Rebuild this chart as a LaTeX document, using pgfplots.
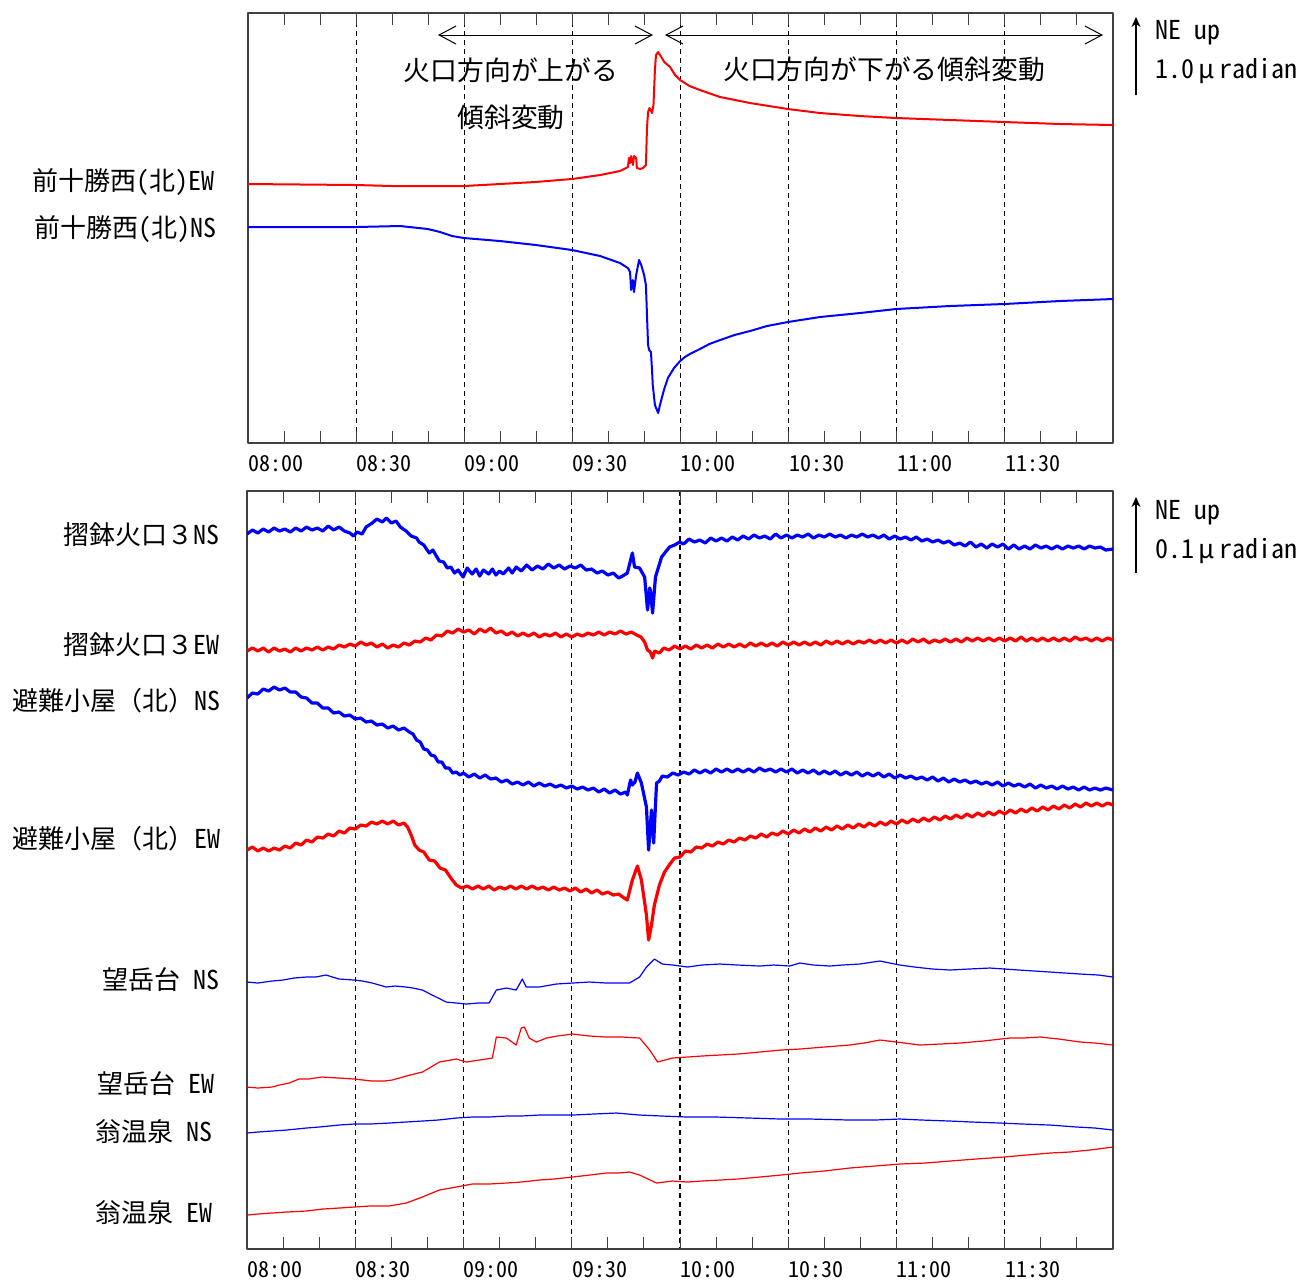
\documentclass[border=0pt]{standalone}
\usepackage{fontspec}
\setmainfont{Noto Sans CJK JP}[RawFeature=+hwid]
\newfontfamily\fw{Noto Sans CJK JP}
\usepackage{pgfplots}
\pgfplotsset{compat=1.18}
\usetikzlibrary{arrows.meta}
\definecolor{tred}{RGB}{255,0,0}
\definecolor{tblue}{RGB}{0,0,255}
\pgfplotsset{
 tiltaxis/.style={
  scale only axis, xmin=0, xmax=240, y dir=reverse,
  xtick={0,30,...,210},
  xticklabels={08:00,08:30,09:00,09:30,10:00,10:30,11:00,11:30},
  minor xtick={10,20,40,50,70,80,100,110,130,140,160,170,190,200,220,230},
  ytick=\empty,
  major tick length=6pt, minor tick length=6pt,
  every tick/.style={black!75, line width=0.5pt},
  axis line style={black!75, line width=0.6pt},
  xmajorgrids,
  major grid style={black, dash pattern=on 2.5pt off 2pt, line width=0.6pt},
  xticklabel style={anchor=north west, font=\fontsize{11}{13}\selectfont, inner sep=0pt, yshift=-6pt},
  line join=round,
 },
 thin trace/.style={line width=0.6pt},
 thick trace/.style={line width=1.6pt},
}
\begin{document}
\begin{tikzpicture}
\begin{scope}[x=0.5pt,y=-0.5pt]
\path[use as bounding box] (0,0) rectangle (1306,1282);
\end{scope}

% ---------------- top panel ----------------
\begin{axis}[tiltaxis, at={(124pt,-221.5pt)}, anchor=south west,
  width=432.5pt, height=215pt, ymin=13, ymax=443]
\addplot[tred, line width=1pt] coordinates {
(0,184) (30,185) (40,186) (50,186) (60,186) (69.9,184) (79.6,182) (89.9,179)
(97.7,175) (103.2,171) (104.9,168) (105.4,167) (105.7,158) (106.0,163) (106.3,156)
(106.8,165) (107.1,156) (107.7,158) (107.9,168) (108.8,169) (109.6,168) (110.4,165)
(110.7,128) (111.0,112) (111.4,108) (112.1,113) (112.5,105) (112.9,70) (113.2,55)
(113.8,52) (114.5,56) (115.5,62) (117.1,67) (118.5,75) (119.9,80) (122.5,86)
(125.4,90) (131,97) (139.3,103) (149.8,109) (158.7,113) (169.8,116) (179.8,118)
(194.8,120) (209.8,122) (225.3,124) (240,125)};
\addplot[tblue, line width=1pt] coordinates {
(0,227) (30,227) (42.2,226) (49.9,229) (53.3,232) (56.6,236) (59.9,238) (69.9,241)
(79.9,245) (89.9,250) (97.7,256) (103.2,263) (105.4,268) (106.0,272) (106.3,290)
(106.8,280) (107.1,292) (107.7,275) (108.5,260) (109.1,265) (109.9,275) (110.4,285)
(110.7,315) (111.0,345) (111.3,350) (111.8,352) (112.1,370) (112.3,385) (112.9,405)
(113.8,413) (114.3,405) (115.4,390) (116.5,378) (118.2,368) (119.9,361) (121.2,357)
(122.6,354) (125.4,349) (128,344) (131,340) (135,335) (139.3,331) (144,326)
(149.8,322) (158.7,317) (169.8,313) (179.8,309) (194.8,306) (209.8,304) (225.3,301) (240,299)};
\end{axis}

% ---------------- bottom panel ----------------
\begin{axis}[tiltaxis, at={(123.5pt,-624.5pt)}, anchor=south west,
  width=433pt, height=379pt, ymin=491, ymax=1249]
% 摺鉢火口3 NS
\addplot[tblue, thick trace] coordinates {
(0,534) (1.5,530) (3,533) (4.5,529) (6,532) (7.5,528) (9,531) (10.5,529) (12,532)
(13.5,528) (15,531) (16.5,527) (18,530) (19.5,528) (21,531) (22.5,526) (24,530)
(25.5,527) (27,531) (28.5,533) (29.5,536) (30.5,532) (31.9,534) (33,527) (34.7,523)
(36,519) (37.5,522) (38.6,518) (40,523) (41.3,521) (42.5,527) (44.1,531) (45.5,536)
(47,538) (47.7,542) (49,545) (50.5,553) (51.5,550) (53.3,561) (54.5,562) (55.5,568)
(56.5,567) (57.5,573) (58.5,570) (59.9,577) (61,568) (62.4,574) (63.5,569) (64.5,576)
(65.5,570) (67,574) (68,569) (69,575) (70,571) (71,574) (72.5,568) (73.5,573)
(74.6,567) (76,571) (77.5,565) (79,570) (80.5,566) (82,569) (83.5,564) (85,568)
(86.5,565) (88,569) (89.5,566) (91,568) (92.5,565) (94,570) (95.5,569) (97,573)
(98.5,571) (100,575) (101.5,573) (103,578) (104.1,576) (105.4,573) (106.8,553)
(107.4,567) (108.8,568) (110.2,577) (111.0,610) (111.6,588) (111.8,590) (112.4,613)
(113.2,577) (114.9,557) (116,552) (117.1,547) (118.5,545) (119.9,542) (121,544)
(122.5,539) (124,542) (125.5,540) (127,543) (128.5,538) (130,541) (131.5,538)
(133,541) (134.5,537) (136,540) (137.5,536) (139,539) (140.5,535) (142,538)
(143.5,536) (145,539) (146.5,534) (148,538) (149.5,535) (151,538) (152.5,535)
(154,537) (155.5,534) (157,538) (158.5,535) (160,537) (161.5,534) (163,537)
(164.5,535) (166,538) (167.5,535) (169,537) (170.5,534) (172,537) (173.5,535)
(175,538) (176.5,535) (178,539) (179.5,536) (181,539) (182.5,537) (184,540)
(185.5,537) (187,541) (188.5,539) (190,542) (191.5,540) (193,543) (194.5,541)
(196,545) (197.5,543) (199,546) (200.5,542) (202,547) (203.5,544) (205,548)
(206.5,544) (208,547) (209.5,544) (211,549) (212.5,545) (214,549) (215.5,546)
(217,549) (218.5,545) (220,548) (221.5,546) (223,549) (224.5,546) (226,549)
(227.5,546) (229,548) (230.5,546) (232,549) (233.5,546) (235,548) (236.5,547)
(238,550) (240,549)};
% 摺鉢火口3 EW
\addplot[tred, thick trace] coordinates {
(0,651) (1.5,648) (3,651) (4.5,648) (6,652) (7.5,648) (9,651) (10.5,649) (12,652)
(13.5,648) (15,651) (16.5,648) (18,650) (19.5,647) (21,650) (22.5,647) (24,649)
(25.5,645) (27,647) (28.5,644) (30,646) (31.5,642) (33,645) (34.5,643) (36,647)
(37.5,644) (39,648) (40.5,645) (42,647) (43.5,643) (45,645) (46.5,641) (48,642)
(49.5,638) (51,640) (52.5,635) (54,636) (55.5,631) (57,633) (58.5,629) (60,632)
(61.5,630) (63,634) (64.5,629) (66,632) (67.5,628) (69,633) (70.5,631) (72,635)
(73.5,632) (75,636) (76.5,633) (78,636) (79.5,633) (81,637) (82.5,634) (84,636)
(85.5,633) (87,637) (88.5,634) (90,637) (91.5,634) (93,636) (94.5,633) (96,635)
(97.5,632) (99,635) (100.5,632) (102,634) (103.5,631) (105,634) (106.5,632)
(108,635) (109.2,637) (110.2,642) (111.0,650) (111.8,652) (112.4,658) (113,651)
(114.3,653) (115.5,648) (117,650) (118.5,646) (120,649) (121.5,646) (123,649)
(124.5,645) (126,648) (127.5,645) (129,648) (130.5,644) (132,647) (133.5,644)
(135,647) (136.5,644) (138,647) (139.5,643) (141,646) (142.5,643) (144,646)
(145.5,643) (147,646) (148.5,642) (150,645) (151.5,642) (153,645) (154.5,642)
(156,645) (157.5,642) (159,645) (160.5,641) (162,644) (163.5,641) (165,644)
(166.5,641) (168,644) (169.5,641) (171,643) (172.5,640) (174,643) (175.5,640)
(177,643) (178.5,640) (180,643) (181.5,640) (183,643) (184.5,639) (186,642)
(187.5,639) (189,643) (190.5,640) (192,642) (193.5,639) (195,642) (196.5,639)
(198,642) (199.5,638) (201,641) (202.5,638) (204,641) (205.5,638) (207,641)
(208.5,638) (210,641) (211.5,638) (213,641) (214.5,637) (216,641) (217.5,638)
(219,641) (220.5,638) (222,641) (223.5,638) (225,641) (226.5,638) (228,641)
(229.5,637) (231,640) (232.5,638) (234,641) (235.5,638) (237,641) (238.5,638) (240,640)};
% 避難小屋(北) NS
\addplot[tblue, thick trace] coordinates {
(0,698) (1.5,693) (3,694) (4.5,689) (6,691) (7.5,687) (9,690) (10.5,688) (12,692)
(13.5,692) (15,697) (16.5,698) (18,703) (19.5,703) (21,708) (22.5,708) (24,713)
(25.5,712) (27,716) (28.5,715) (30,719) (31.5,718) (33,722) (34.5,721) (36,725)
(37.5,724) (39,728) (40.5,726) (42,730) (43.5,728) (45,732) (46,734) (47,740)
(48,742) (49,749) (50,750) (51,755) (52,756) (53,762) (54,762) (55,768) (56,768)
(57,773) (58,772) (59,775) (60,773) (61.5,777) (63,774) (64.5,778) (66,775)
(67.5,779) (69,778) (70.5,782) (72,780) (73.5,784) (75,782) (76.5,785) (78,782)
(79.5,786) (81,783) (82.5,786) (84,784) (85.5,787) (87,785) (88.5,788) (90,786)
(91.5,789) (93,787) (94.5,790) (96,788) (97.5,792) (99,789) (100.5,793) (102,790)
(103.5,794) (105,792) (105.4,795) (106.3,780) (106.8,785) (107.5,782) (108.2,773)
(109.3,783) (110.7,807) (111.3,850) (112.1,810) (112.7,843) (113.5,783) (114.3,781)
(115.1,776) (116.5,777) (118,773) (119.5,775) (121,772) (122.5,774) (124,770)
(125.5,773) (127,770) (128.5,773) (130,769) (131.5,772) (133,769) (134.5,772)
(136,769) (137.5,772) (139,769) (140.5,772) (142,768) (143.5,771) (145,769)
(146.5,772) (148,769) (149.5,772) (151,769) (152.5,773) (154,770) (155.5,773)
(157,770) (158.5,774) (160,771) (161.5,774) (163,771) (164.5,775) (166,772)
(167.5,775) (169,772) (170.5,776) (172,773) (173.5,776) (175,773) (176.5,777)
(178,774) (179.5,778) (181,775) (182.5,778) (184,776) (185.5,779) (187,777)
(188.5,780) (190,777) (191.5,781) (193,778) (194.5,782) (196,779) (197.5,782)
(199,780) (200.5,783) (202,781) (203.5,784) (205,782) (206.5,785) (208,782)
(209.5,786) (211,783) (212.5,786) (214,784) (215.5,787) (217,784) (218.5,788)
(220,785) (221.5,788) (223,786) (224.5,789) (226,786) (227.5,789) (229,787)
(230.5,790) (232,787) (233.5,790) (235,788) (236.5,790) (238,788) (240,790)};
% 避難小屋(北) EW
\addplot[tred, thick trace] coordinates {
(0,850) (1.5,847) (3,851) (4.5,848) (6,851) (7.5,848) (9,850) (10.5,846) (12,848)
(13.5,843) (15,845) (16.5,840) (18,842) (19.5,837) (21,838) (22.5,834) (24,836)
(25.5,831) (27,833) (28.5,828) (30,829) (31.5,825) (33,826) (34.5,822) (36,824)
(37.5,821) (39,824) (40.5,821) (42,825) (43.5,823) (44.5,827) (45.5,835) (46.5,845)
(47.7,850) (49,852) (50.5,860) (52,861) (53.5,868) (55,870) (56.5,878) (58,885)
(59.5,888) (61,886) (62.5,889) (64,886) (65.5,889) (67,886) (68.5,890) (70,887)
(71.5,889) (73,886) (74.5,889) (76,886) (77.5,889) (79,886) (80.5,889) (82,887)
(83.5,890) (85,887) (86.5,890) (88,888) (89.5,891) (91,888) (92.5,892) (94,889)
(95.5,893) (97,890) (98.5,894) (100,892) (101.5,895) (103,894) (104.5,898)
(105.4,900) (106.8,880) (108.2,866) (109.3,880) (110.7,915) (111.3,940) (112.1,925)
(112.9,905) (114.3,885) (115.7,872) (117,865) (118.5,858) (120,857) (121.5,851)
(123,852) (124.5,847) (126,848) (127.5,844) (129,846) (130.5,842) (132,844)
(133.5,840) (135,842) (136.5,838) (138,840) (139.5,836) (141,838) (142.5,834)
(144,837) (145.5,833) (147,835) (148.5,831) (150,834) (151.5,830) (153,833)
(154.5,829) (156,832) (157.5,828) (159,831) (160.5,827) (162,830) (163.5,826)
(165,829) (166.5,825) (168,828) (169.5,824) (171,827) (172.5,823) (174,826)
(175.5,822) (177,825) (178.5,821) (180,824) (181.5,820) (183,823) (184.5,819)
(186,822) (187.5,818) (189,821) (190.5,817) (192,820) (193.5,816) (195,819)
(196.5,815) (198,818) (199.5,814) (201,817) (202.5,813) (204,816) (205.5,812)
(207,815) (208.5,811) (210,814) (211.5,810) (213,813) (214.5,809) (216,812)
(217.5,808) (219,811) (220.5,807) (222,810) (223.5,806) (225,809) (226.5,805)
(228,808) (229.5,804) (231,807) (232.5,803) (234,806) (235.5,803) (237,806)
(238.5,803) (240,805)};
% 望岳台 NS
\addplot[tblue, thin trace] coordinates {
(0,982) (3,983) (6.9,981) (10,980) (13,978) (16.4,977) (19,977) (21.9,975) (25.5,979)
(29.7,980) (32,981) (34.7,983) (38.6,987) (41,986) (44.1,987) (46,988) (48.6,990)
(51.3,995) (53,998) (55.2,1002) (58,1003) (60.8,1004) (64,1003) (67.1,1003) (69.1,990)
(71.9,988) (74.6,990) (76.3,979) (77.4,987) (81.0,987) (85.7,984) (90.2,983)
(94.9,982) (99.6,983) (103,983) (106.0,983) (108.8,977) (110.7,967) (112.9,959)
(115.1,964) (118,965) (122.1,967) (126,965) (131.0,964) (136,965) (142.1,966) (146,965) (150.4,966)
(153.2,963) (157,965) (161.5,966) (165,965) (169.8,964) (175.4,961) (180.9,965) (185,967) (190,969) (194.8,970)
(200,969) (205.9,968) (214,970) (222.5,972) (230.9,974) (236,975) (240,977)};
% 望岳台 EW
\addplot[tred, thin trace] coordinates {
(0,1087) (3,1088) (6.9,1087) (9,1085) (11.7,1083) (14.4,1079) (17,1079) (20.8,1077) (25.5,1078)
(29.7,1079) (34.7,1081) (38,1081) (40.2,1080) (42.2,1078) (44.1,1076) (48.6,1072)
(51,1067) (53.3,1062) (58.0,1059) (60.8,1062) (64.4,1060) (68.0,1058) (69.1,1037)
(71.9,1038) (74.6,1045) (76.0,1028) (76.9,1027) (78.2,1038) (80.2,1042) (83.0,1038)
(86,1036) (90.2,1034) (95,1036) (99.6,1037) (104,1037) (108.8,1038) (111.6,1050)
(113.8,1062) (117.9,1058) (122.1,1057) (126,1056) (131.0,1055) (136,1054) (142.1,1052)
(148,1050) (153.2,1049) (160,1047) (167.0,1045) (171,1043) (175.4,1040) (180,1042) (186.5,1045)
(192,1044) (197.6,1043) (204,1041) (211.4,1038) (215,1038) (219.8,1037) (225,1039) (230.9,1042)
(235,1043) (240,1045)};
% 翁温泉 NS
\addplot[tblue, thin trace] coordinates {
(0,1133) (3,1132) (6.9,1131) (11,1130) (16.4,1128) (20,1127) (25.5,1125) (29.7,1124)
(34,1124) (39.4,1123) (44,1122) (48.6,1121) (53,1120) (58.0,1118) (62.4,1117) (67,1117)
(71.9,1116) (76,1116) (81.0,1115) (85,1115) (90.2,1115) (96,1114) (102.4,1113) (108.8,1115)
(115,1116) (122.1,1117) (130,1117) (139.3,1118) (148,1119) (156,1119) (167.0,1120) (174,1120)
(180.9,1119) (187,1120) (194.8,1121) (201,1122) (208.7,1123) (215,1124) (222.5,1125)
(230,1127) (235,1128) (240,1130)};
% 翁温泉 EW
\addplot[tred, thin trace] coordinates {
(0,1215) (3,1214) (6.9,1213) (11,1212) (16.4,1211) (21,1209) (25.5,1208) (29.7,1207)
(34,1206) (39.4,1206) (44.1,1203) (48.6,1197) (53.3,1190) (58.0,1187) (62.4,1184)
(67,1184) (71.9,1183) (76,1182) (81.0,1180) (85,1179) (90.2,1177) (95,1175) (99.6,1173)
(103,1173) (106.0,1172) (108.8,1175) (113.5,1183) (117.9,1181) (122.1,1182)
(126,1181) (131.0,1180) (136,1179) (142.1,1177) (148,1175) (153.2,1173) (160,1171) (167.0,1168)
(174,1166) (180.9,1164) (188,1163) (194.8,1161) (202,1159) (209.8,1157) (216,1155) (222.5,1153)
(228,1152) (233.6,1150) (240,1147)};
\end{axis}

% ---------------- annotations ----------------
\begin{scope}[x=0.5pt,y=-0.5pt]
\def\lab{\fontsize{13}{15}\selectfont}
\def\ann{\fontsize{13.4}{16}\selectfont}
\def\scl{\fontsize{13}{16}\selectfont}
\node[anchor=east, inner sep=0pt] at (215,182) {\lab 前十勝西(北)EW};
\node[anchor=east, inner sep=0pt] at (217,229) {\lab 前十勝西(北)NS};
\node[anchor=east, inner sep=0pt] at (220,535) {\lab 摺鉢火口{\fw ３}NS};
\node[anchor=east, inner sep=0pt] at (220,645) {\lab 摺鉢火口{\fw ３}EW};
\node[anchor=east, inner sep=0pt] at (221,701) {\lab 避難小屋{\fw （}北{\fw ）}NS};
\node[anchor=east, inner sep=0pt] at (221,839) {\lab 避難小屋{\fw （}北{\fw ）}EW};
\node[anchor=east, inner sep=0pt] at (220,980) {\lab 望岳台 NS};
\node[anchor=east, inner sep=0pt] at (215,1084) {\lab 望岳台 EW};
\node[anchor=east, inner sep=0pt] at (213,1132) {\lab 翁温泉 NS};
\node[anchor=east, inner sep=0pt] at (213,1213) {\lab 翁温泉 EW};

\draw[line width=0.5pt, {Straight Barb[length=8.5pt,width=9pt]}-{Straight Barb[length=8.5pt,width=9pt]}] (438,35) -- (653,35);
\draw[line width=0.5pt, {Straight Barb[length=8.5pt,width=9pt]}-{Straight Barb[length=8.5pt,width=9pt]}] (665,35) -- (1103,35);
\node[inner sep=0pt] at (511,70) {\ann 火口方向が上がる};
\node[inner sep=0pt] at (511,117) {\ann 傾斜変動};
\node[inner sep=0pt] at (884,69) {\ann 火口方向が下がる傾斜変動};

\draw[line width=0.6pt, -{Stealth[length=5pt,width=4.5pt]}] (1136,95) -- (1136,17);
\node[anchor=west, inner sep=0pt] at (1155,33) {\scl NE up};
\node[anchor=west, inner sep=0pt] at (1155,71) {\scl 1.0\kern0.15em μ\kern0.2em radian};
\draw[line width=0.6pt, -{Stealth[length=5pt,width=4.5pt]}] (1136,573) -- (1136,497);
\node[anchor=west, inner sep=0pt] at (1155,513) {\scl NE up};
\node[anchor=west, inner sep=0pt] at (1155,551) {\scl 0.1\kern0.15em μ\kern0.2em radian};
\end{scope}
\end{tikzpicture}
\end{document}
